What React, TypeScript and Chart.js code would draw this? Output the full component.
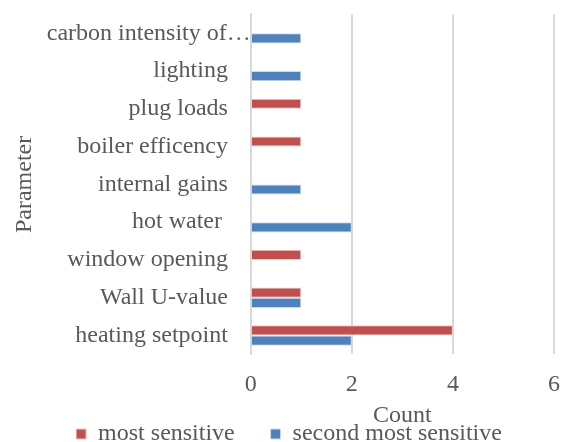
import React, { useEffect, useRef } from "react";
import { Chart, registerables } from "chart.js";

Chart.register(...registerables);

const categories = [
  "carbon intensity of…",
  "lighting",
  "plug loads",
  "boiler efficency",
  "internal gains",
  "hot water ",
  "window opening",
  "Wall U-value",
  "heating setpoint",
];
const mostSensitive = [0, 0, 1, 1, 0, 0, 1, 1, 4];
const secondMostSensitive = [1, 1, 0, 0, 1, 2, 0, 1, 2];
const xTicks = [0, 2, 4, 6];

const FONT = "'Liberation Serif', 'Times New Roman', serif";
const TEXT = "#595959";
const GRID = "#d9d9d9";
const FS = 24;

export default function App() {
  const ref = useRef<HTMLCanvasElement | null>(null);
  useEffect(() => {
    if (!ref.current) return;
    const chart = new Chart(ref.current, {
      type: "bar",
      data: {
        labels: categories,
        datasets: [
          {
            label: "most sensitive",
            data: mostSensitive,
            backgroundColor: "#C0504D",
            borderColor: "#f2c9c8",
            borderWidth: 1,
            categoryPercentage: 0.54,
            barPercentage: 1,
          },
          {
            label: "second most sensitive",
            data: secondMostSensitive,
            backgroundColor: "#4F81BD",
            borderColor: "#c9daf0",
            borderWidth: 1,
            categoryPercentage: 0.54,
            barPercentage: 1,
          },
        ],
      },
      options: {
        indexAxis: "y",
        animation: false,
        responsive: true,
        maintainAspectRatio: false,
        layout: { padding: { top: 0, right: 12, left: 24, bottom: -14 } },
        scales: {
          x: {
            min: 0,
            max: 6,
            afterBuildTicks: (axis: any) => {
              axis.ticks = xTicks.map((v) => ({ value: v }));
            },
            afterFit: (axis: any) => {
              axis.paddingRight = 0;
            },
            grid: { color: GRID, lineWidth: 2, drawTicks: false },
            border: { display: false },
            ticks: { color: TEXT, font: { family: FONT, size: FS }, padding: 16 },
            title: {
              display: true,
              text: "Count",
              color: TEXT,
              font: { family: FONT, size: FS },
              padding: { top: -14, bottom: -9 },
            },
          },
          y: {
            grid: { display: false, drawTicks: false },
            border: { display: true, color: GRID, width: 2 },
            ticks: {
              color: TEXT,
              font: { family: FONT, size: FS },
              padding: 0,
              callback: (_v: any, i: number) =>
                i === 0 ? categories[i] : categories[i] + "   \u2009",
            },
            title: {
              display: true,
              text: "Parameter",
              color: TEXT,
              font: { family: FONT, size: FS },
              padding: { top: -14, bottom: 8 },
            },
          },
        },
        plugins: {
          legend: {
            position: "bottom",
            labels: {
              color: TEXT,
              font: { family: FONT, size: FS },
              boxWidth: 10,
              boxHeight: 10,
              padding: 1,
              generateLabels: (c: any) => {
                const items = Chart.defaults.plugins.legend.labels.generateLabels(c);
                items[0].text = items[0].text + "     \u2009";
                return items;
              },
            },
          },
          tooltip: { enabled: false },
        },
      },
    });
    return () => chart.destroy();
  }, []);
  return (
    <div style={{ position: "fixed", left: 0, top: 0, width: 566, height: 442, background: "#fff" }}>
      <canvas ref={ref} />
    </div>
  );
}
